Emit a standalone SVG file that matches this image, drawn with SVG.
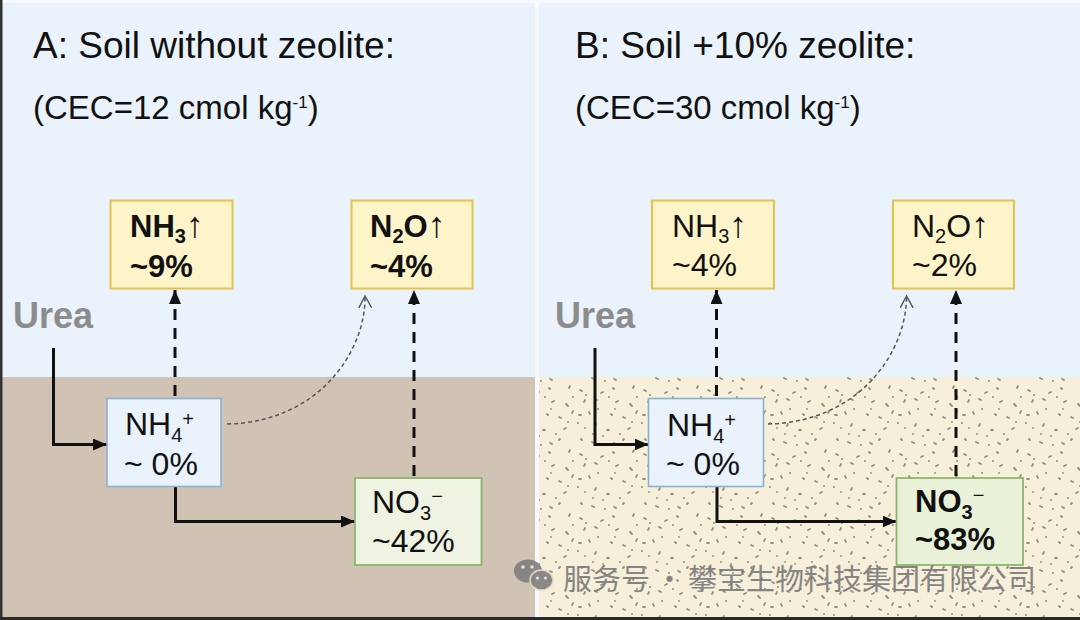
<svg xmlns="http://www.w3.org/2000/svg" width="1080" height="620" viewBox="0 0 1080 620">
<style>
text{font-family:"Liberation Sans",Arial,sans-serif;fill:#111}
.title{font-size:37px}
.sub{font-size:33px}
.bx{font-size:32px}
.b{font-weight:bold;font-size:31px}
.s{font-size:20px}
.arr{font-weight:normal;font-size:36px}
.urea{font-size:36px;font-weight:bold;fill:#8c8c8c}
.yel{fill:#fdf5c9;stroke:#e6c24c;stroke-width:2}
.blu{fill:#eaf2fc;stroke:#8eb0d8;stroke-width:1.6}
.grn{fill:#eef4e1;stroke:#8db56a;stroke-width:1.8}
.solid{fill:none;stroke:#111;stroke-width:3;marker-end:url(#ah)}
.dash{fill:none;stroke:#111;stroke-width:3;stroke-dasharray:11 8;marker-end:url(#ah)}
.dot{fill:none;stroke:#555;stroke-width:1.5;stroke-dasharray:4 3;marker-end:url(#av)}
.wm{font-family:"Noto Sans CJK SC","Liberation Sans",sans-serif;font-size:29px;fill:#7a7a7a}
</style>
<defs>
<marker id="ah" markerUnits="userSpaceOnUse" markerWidth="16" markerHeight="14" refX="14" refY="6" orient="auto">
<path d="M0,0 L14,6 L0,12 Z" fill="#111"/>
</marker>
<marker id="av" markerUnits="userSpaceOnUse" markerWidth="16" markerHeight="16" refX="12" refY="7" orient="auto">
<path d="M0,0.5 L12,7 L0,13.5" fill="none" stroke="#555" stroke-width="1.4"/>
</marker>
<pattern id="speck" width="64" height="64" patternUnits="userSpaceOnUse">
<g stroke="#7d7566" stroke-width="1.8" stroke-linecap="round" fill="none" opacity="0.8">
<path d="M4,6l2,1M25,9l2,-1M37,4l1,1M58,2l-1,2M8,18l1,-2M19,15l2,1M42,17l-2,1M54,20l2,2M3,31l2,0M13,28l1,2M35,30l1,1M47,33l2,1M60,29l1,-2M20,40l-1,2M31,46l2,0M52,45l2,-1M5,55l1,1M16,58l2,1M38,59l2,1M48,55l-1,1"/>
</g>
<g fill="#7d7566" opacity="0.8">
<circle cx="10" cy="11" r="1"/><circle cx="33" cy="13" r="1"/><circle cx="56" cy="38" r="1"/><circle cx="22" cy="25" r="1"/><circle cx="44" cy="50" r="1"/><circle cx="2" cy="39" r="1"/><circle cx="29" cy="61" r="1"/><circle cx="61" cy="13" r="1"/><circle cx="39" cy="25" r="0.9"/><circle cx="17" cy="50" r="0.9"/><circle cx="9" cy="44" r="0.9"/><circle cx="27" cy="52" r="0.9"/>
</g>
</pattern>
</defs>

<rect width="1080" height="620" fill="#f7f9fc"/>
<!-- Panel A -->
<rect x="2" y="3" width="533" height="614" fill="#eaf2fb"/>
<rect x="2" y="377" width="533" height="240" fill="#d1c3b3"/>
<!-- Panel B -->
<rect x="539" y="3" width="541" height="614" fill="#eaf2fb"/>
<rect x="539" y="377" width="541" height="240" fill="#f6efd9"/>
<rect x="539" y="377" width="541" height="240" fill="url(#speck)"/>
<rect x="0" y="0" width="2.5" height="620" fill="#333"/>
<rect x="0" y="617" width="1080" height="3" fill="#2a2a2a"/>

<text class="title" x="33" y="58">A: Soil without zeolite:</text>
<text class="sub" x="33" y="119">(CEC=12 cmol kg<tspan font-size="17" dy="-11">-1</tspan><tspan dy="11">)</tspan></text>
<text class="title" x="575" y="58">B: Soil +10% zeolite:</text>
<text class="sub" x="575" y="119">(CEC=30 cmol kg<tspan font-size="17" dy="-11">-1</tspan><tspan dy="11">)</tspan></text>

<text class="urea" x="13" y="328">Urea</text>
<text class="urea" x="555" y="328">Urea</text>

<g id="connectors">
<path class="solid" d="M53.5,348 V444.5 H107"/>
<path class="solid" d="M175.5,487 V521.5 H355"/>
<path class="dash" d="M175,396 V290"/>
<path class="dash" d="M414,476 V290"/>
<path class="dot" d="M227,424 C320,422 366,350 365,296"/>

<path class="solid" d="M595,348 V444.5 H648.5"/>
<path class="solid" d="M717,487 V521.5 H896.5"/>
<path class="dash" d="M716.5,396 V290"/>
<path class="dash" d="M956,476 V290"/>
<path class="dot" d="M768,424 C861,422 907,350 906.5,296"/>
</g>

<g id="a-nh3">
<rect class="yel" x="110.5" y="200.5" width="122" height="88"/>
<text class="b" x="130" y="237">NH<tspan class="s" dy="6">3</tspan><tspan class="arr" dy="-6">↑</tspan></text>
<text class="b" x="130" y="277">~9%</text>
</g>
<g id="a-n2o">
<rect class="yel" x="351.5" y="200.5" width="121" height="88"/>
<text class="b" x="370" y="237">N<tspan class="s" dy="6">2</tspan><tspan dy="-6">O</tspan><tspan class="arr">↑</tspan></text>
<text class="b" x="370" y="277">~4%</text>
</g>
<g id="a-nh4">
<rect class="blu" x="107" y="398.5" width="114" height="88"/>
<text class="bx" x="125" y="435">NH<tspan class="s" dy="7">4</tspan><tspan class="s" dy="-16">+</tspan></text>
<text class="bx" x="124" y="475">~ 0%</text>
</g>
<g id="a-no3">
<rect class="grn" x="355" y="478" width="126.5" height="87"/>
<text class="bx" x="372" y="513">NO<tspan class="s" dy="7">3</tspan><tspan class="s" dy="-17">−</tspan></text>
<text class="bx" x="372" y="552">~42%</text>
</g>

<g id="b-nh3">
<rect class="yel" x="652" y="200.5" width="122" height="88"/>
<text class="bx" x="672" y="237">NH<tspan class="s" dy="6">3</tspan><tspan class="arr" dy="-6">↑</tspan></text>
<text class="bx" x="672" y="276">~4%</text>
</g>
<g id="b-n2o">
<rect class="yel" x="893" y="200.5" width="121" height="88"/>
<text class="bx" x="912" y="237">N<tspan class="s" dy="6">2</tspan><tspan dy="-6">O</tspan><tspan class="arr">↑</tspan></text>
<text class="bx" x="912" y="276">~2%</text>
</g>
<g id="b-nh4">
<rect class="blu" x="648.5" y="398.5" width="115" height="88"/>
<text class="bx" x="667" y="436">NH<tspan class="s" dy="7">4</tspan><tspan class="s" dy="-16">+</tspan></text>
<text class="bx" x="666" y="475">~ 0%</text>
</g>
<g id="b-no3">
<rect class="grn" x="896.5" y="478" width="126.5" height="87" style="fill:#e9f2d9"/>
<text class="b" x="915" y="512">NO<tspan class="s" dy="7">3</tspan><tspan class="s" font-weight="normal" dy="-17">−</tspan></text>
<text class="b" x="915" y="550">~83%</text>
</g>

<g id="watermark" opacity="0.9">
<ellipse cx="528" cy="571" rx="14" ry="11.5" fill="#7f7f7f"/>
<ellipse cx="541.5" cy="580" rx="11.5" ry="10" fill="#7f7f7f" stroke="#e0d8c8" stroke-width="1.5"/>
<circle cx="523" cy="567" r="1.8" fill="#e6e6e6"/><circle cx="532" cy="567" r="1.8" fill="#e6e6e6"/>
<circle cx="537.5" cy="578" r="1.5" fill="#e6e6e6"/><circle cx="545.5" cy="578" r="1.5" fill="#e6e6e6"/>
<text class="wm" x="563" y="590">服务号<tspan x="655">·</tspan><tspan x="688">攀宝生物科技集团有限公司</tspan></text>
</g>
</svg>
